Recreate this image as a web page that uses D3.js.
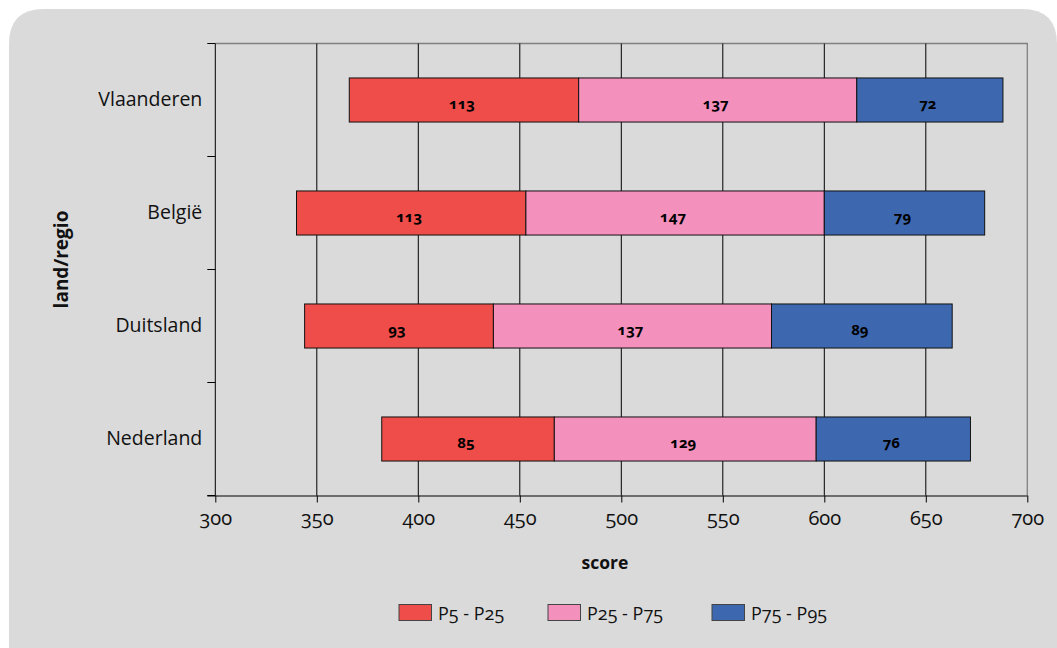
<!DOCTYPE html>
<html><head><meta charset="utf-8">
<script src="https://cdn.jsdelivr.net/npm/d3@7/dist/d3.min.js"></script>
<style>
body{margin:0;background:#fff;}
svg text{font-family:"Open Sans",sans-serif;font-variant-numeric:oldstyle-nums;font-feature-settings:"onum" 1;}
</style></head>
<body><svg id="c" width="1057" height="648"></svg>
<script>
const categories = ["Vlaanderen","België","Duitsland","Nederland"];
const startP5 = [366, 340, 344, 382];
const p5p25 = [113, 113, 93, 85];
const p25p75 = [137, 147, 137, 129];
const p75p95 = [72, 79, 89, 76];
const seriesNames = ["P5 - P25","P25 - P75","P75 - P95"];
const seriesColors = ["#ef4d4a","#f391bc","#3d68b0"];
const xTicks = [300,350,400,450,500,550,600,650,700];

const svg = d3.select("#c");
svg.append("path")
  .attr("d", "M9,648 L9,44 Q9,9 44,9 L1022,9 Q1057,9 1057,44 L1057,648 Z")
  .attr("fill","#dadada");

const m = {l:215.3, r:1027.3, t:43.5, b:495.5};
const x = d3.scaleLinear().domain([300,700]).range([m.l,m.r]);
const y = d3.scaleBand().domain(categories).range([m.t,m.b]).paddingInner(0.61).paddingOuter(0.305);

const g = svg.append("g");
g.append("path").attr("d",`M${m.l},${m.t}H${m.r}V${m.b}`).attr("fill","none").attr("stroke","#808080").attr("stroke-width",1.3);
g.selectAll("line.grid").data(xTicks.filter(t=>t>300 && t<700)).enter().append("line")
  .attr("x1",d=>x(d)).attr("x2",d=>x(d)).attr("y1",m.t).attr("y2",m.b)
  .attr("stroke","#000").attr("stroke-width",1);

const rows = categories.map((c,i)=>{
  const a = startP5[i], b = a+p5p25[i], cc = b+p25p75[i], d = cc+p75p95[i];
  return [{c, s:0, x0:a, x1:b, v:p5p25[i]},{c, s:1, x0:b, x1:cc, v:p25p75[i]},{c, s:2, x0:cc, x1:d, v:p75p95[i]}];
}).flat();
g.selectAll("rect.bar").data(rows).enter().append("rect")
  .attr("x",d=>x(d.x0)).attr("width",d=>x(d.x1)-x(d.x0))
  .attr("y",d=>y(d.c)).attr("height",y.bandwidth())
  .attr("fill",d=>seriesColors[d.s]).attr("stroke","#111").attr("stroke-width",1);
g.selectAll("text.lab").data(rows).enter().append("text")
  .attr("x",d=>(x(d.x0)+x(d.x1))/2 - 2).attr("y",d=>y(d.c)+y.bandwidth()/2+9)
  .attr("text-anchor","middle").attr("font-size",15).attr("font-weight","bold").attr("fill","#000")
  .text(d=>d.v);

const yAxis = g.append("g").attr("transform",`translate(${m.l},0)`);
yAxis.append("line").attr("x1",0).attr("x2",0).attr("y1",m.t).attr("y2",m.b).attr("stroke","#000");
const yTickPos = d3.range(categories.length+1).map(i=>m.t+i*(m.b-m.t)/categories.length);
yAxis.selectAll("line.t").data(yTickPos).enter().append("line")
  .attr("x1",-8).attr("x2",0).attr("y1",d=>d).attr("y2",d=>d).attr("stroke","#000");
yAxis.selectAll("text").data(categories).enter().append("text")
  .attr("x",-13).attr("y",d=>y(d)+y.bandwidth()/2+6)
  .attr("text-anchor","end").attr("font-size",19.5).attr("fill","#111").text(d=>d);

const xa = g.append("g").attr("transform",`translate(0,${m.b})`)
  .call(d3.axisBottom(x).tickValues(xTicks).tickSize(7).tickSizeOuter(0).tickPadding(8));
xa.select(".domain").attr("stroke","#000").attr("d",`M${m.l-8},0.5H${m.r}`);
xa.selectAll(".tick line").attr("stroke","#000");
xa.selectAll(".tick text").attr("font-size",20).attr("fill","#111").attr("font-family","\"Open Sans\",sans-serif");

svg.append("text").attr("x",605).attr("y",569).attr("text-anchor","middle")
  .attr("font-size",17.5).attr("font-weight","bold").attr("fill","#111").text("score");
svg.append("text").attr("transform",`translate(68,${(m.t+m.b)/2 - 10}) rotate(-90)`).attr("text-anchor","middle")
  .attr("font-size",19).attr("font-weight","bold").attr("fill","#111").text("land/regio");

const lx = [399, 548, 712];
const lg = svg.append("g");
seriesNames.forEach((n,i)=>{
  lg.append("rect").attr("x",lx[i]).attr("y",604.5).attr("width",32.5).attr("height",16)
    .attr("fill",seriesColors[i]).attr("stroke","#444").attr("stroke-width",1);
  lg.append("text").attr("x",lx[i]+39).attr("y",620).attr("font-size",18).attr("fill","#111").text(n);
});
</script></body></html>
